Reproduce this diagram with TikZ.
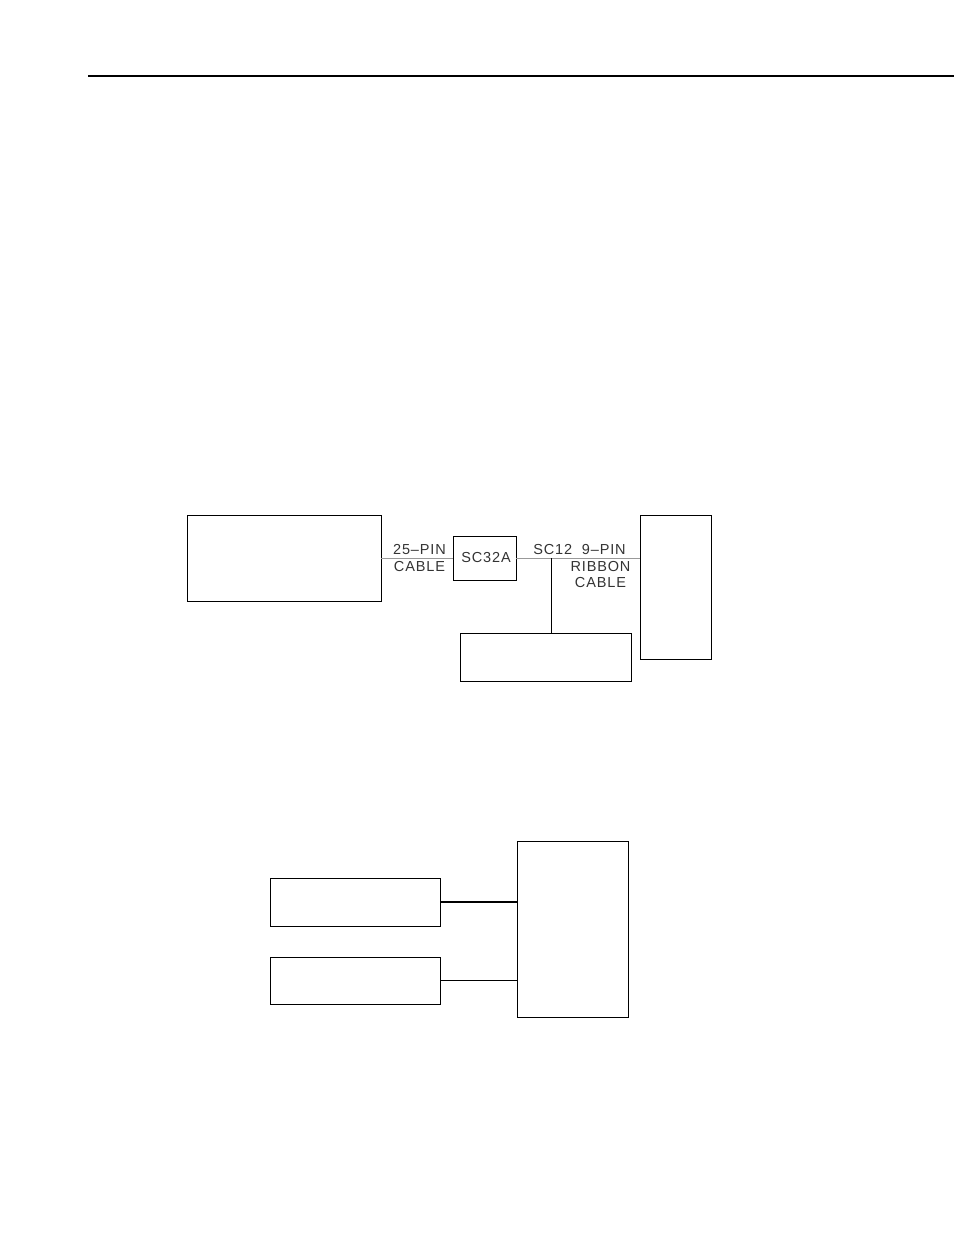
\documentclass[tikz,border=0pt]{standalone}
\usepackage{fontspec}
\setmainfont{Liberation Sans}
\newfontfamily\cadfont[LetterSpace=6]{Liberation Sans}
\tikzset{
  unit/.style={draw, thick, minimum width=#1, inner sep=0pt},
  lbl/.style={anchor=base, inner sep=0pt, text=black!80, font=\cadfont\fontsize{14.5}{15}\selectfont},
  cable/.style={black!40, line width=0.9pt}
}
\begin{document}
\begin{tikzpicture}[x=1pt, y=-1pt, line width=0.9pt]
\useasboundingbox (0,0) rectangle (954,1235);
% Cabecera
\draw[line width=1.4pt] (88,76) -- (954,76);
% Primer esquema
\node[unit=194pt, minimum height=86pt] (logger) at (284,558) {};
\node[unit=63pt, minimum height=44pt] (sc32a) at (484.5,558) {};
\node[unit=71pt, minimum height=144pt] (probe) at (675.5,587) {};
\node[unit=171pt, minimum height=48pt] (keyb) at (545.5,657) {};
\coordinate (tap) at (551,558);
\draw[cable] (logger.east) -- (sc32a.west);
\draw[cable] (sc32a.east) -- (probe.west |- sc32a.east);
\draw (tap) -- (tap |- keyb.north);
% Textos
\node[lbl] (sc32atxt) at (486,562.5) {SC32A};
\node[lbl] (pin25) at (419.5,554) {25–PIN};
\node[lbl] (cab25) at (419.5,571) {CABLE};
\node[lbl] (pin9) at (579.5,554) {SC12\ \ 9–PIN};
\node[lbl] (ribbon) at (600.5,571) {RIBBON};
\node[lbl] (cab9) at (600.5,587) {CABLE};
% Segundo esquema
\node[unit=170pt, minimum height=48pt] (top) at (355,902) {};
\node[unit=170pt, minimum height=47pt] (bot) at (355,980.5) {};
\node[unit=111pt, minimum height=176pt] (host) at (572.5,929) {};
\draw[line width=2.4pt] (top.east) -- (top.east -| host.west);
\draw (bot.east) -- (bot.east -| host.west);
\end{tikzpicture}
\end{document}
